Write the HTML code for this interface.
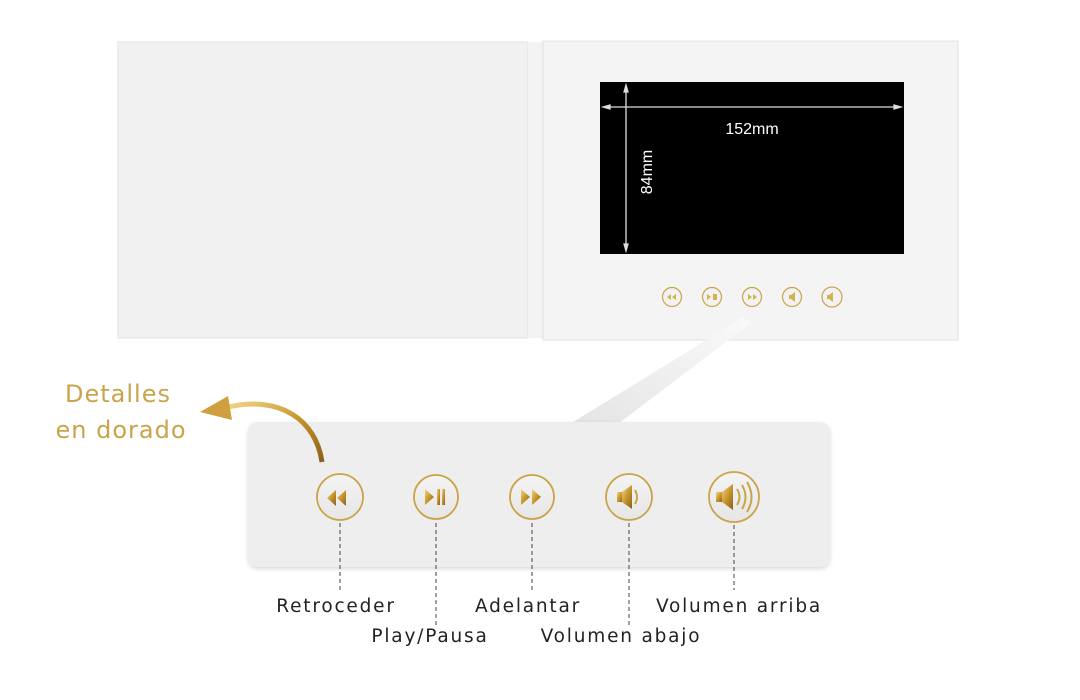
<!DOCTYPE html>
<html><head><style>
body{margin:0;width:1080px;height:700px;background:#fff;position:relative;overflow:hidden;font-family:"DejaVu Sans","Liberation Sans",sans-serif}
.t{position:absolute;font-size:18.5px;color:#222;white-space:nowrap;transform:translateX(-50%);letter-spacing:1.8px}
.g{position:absolute;font-size:24px;color:#c9a44a;white-space:nowrap;transform:translateX(-50%);letter-spacing:1px}
</style></head><body>
<svg width="1080" height="700" style="position:absolute;left:0;top:0">
<defs>
<linearGradient id="gold" x1="0" y1="0" x2="1" y2="1"><stop offset="0" stop-color="#f0d58a"/><stop offset="0.5" stop-color="#c8962c"/><stop offset="1" stop-color="#8a6018"/></linearGradient>
<linearGradient id="beam" x1="1" y1="0" x2="0" y2="1"><stop offset="0" stop-color="#fafafa"/><stop offset="1" stop-color="#e4e4e4"/></linearGradient>
<linearGradient id="btn" x1="0" y1="0" x2="0" y2="1"><stop offset="0" stop-color="#f4f4f4"/><stop offset="1" stop-color="#e6e6e6"/></linearGradient>
</defs>
<rect x="118" y="42" width="410" height="296" fill="#f1f1f1" stroke="#e2e2e2"/>
<rect x="528" y="42" width="16" height="296" fill="#f3f3f3"/>
<rect x="543" y="41" width="415" height="299" fill="#f4f4f4" stroke="#e0e0e0"/>
<rect x="600" y="82" width="304" height="172" fill="#000"/>
<g stroke="#ddd" stroke-width="1.3" fill="#ddd">
<line x1="604" y1="107" x2="900" y2="107"/><polygon points="603,107 610,105 610,109"/><polygon points="901,107 894,105 894,109"/>
<line x1="626" y1="86" x2="626" y2="250"/><polygon points="626,85 624,92 628,92"/><polygon points="626,251 624,244 628,244"/>
</g>
<text x="752" y="134" fill="#fff" font-size="16" text-anchor="middle" font-family="Liberation Sans">152mm</text>
<text transform="translate(652,172) rotate(-90)" fill="#fff" font-size="16" text-anchor="middle" font-family="Liberation Sans">84mm</text>
<g stroke="#c9a44a" stroke-width="1.2" fill="#f2f2f2">
<circle cx="672" cy="297" r="9.5"/><circle cx="712" cy="297" r="9.5"/><circle cx="752" cy="297" r="9.5"/><circle cx="792" cy="297" r="9.5"/><circle cx="832" cy="297" r="10"/>
</g>
<g fill="#d4b24c">
<polygon points="667,297 671,294 671,300"/><polygon points="672,297 676,294 676,300"/>
<polygon points="707,294 711,297 707,300"/><rect x="713" y="294" width="4" height="6"/>
<polygon points="748,294 752,297 748,300"/><polygon points="753,294 757,297 753,300"/>
<rect x="789" y="295" width="3" height="4"/><polygon points="791,295 795,292 795,302 791,299"/>
<rect x="827" y="295" width="3" height="4"/><polygon points="829,295 833,292 833,302 829,299"/>
</g>
<polygon points="742,318 752,322 618,424 570,424" fill="url(#beam)"/>
<rect x="248" y="422" width="582" height="145" rx="10" fill="#eeeeee" filter="drop-shadow(0 2px 2px rgba(0,0,0,0.15))"/>
<g stroke-dasharray="4,3" stroke="#444" stroke-width="1">
<line x1="340" y1="523" x2="340" y2="590"/><line x1="436" y1="523" x2="436" y2="625"/><line x1="532" y1="523" x2="532" y2="590"/><line x1="629" y1="523" x2="629" y2="625"/><line x1="734" y1="525" x2="734" y2="590"/>
</g>
<g stroke="#c9a44a" stroke-width="1.8" fill="url(#btn)">
<circle cx="340" cy="497" r="23"/><circle cx="436" cy="497" r="22"/><circle cx="532" cy="497" r="22"/><circle cx="629" cy="497" r="23"/><circle cx="734" cy="497" r="25"/>
</g>
<g fill="url(#gold)">
<polygon points="327,498 336,490 336,506"/><polygon points="337,498 346,490 346,506"/>
<polygon points="425,489 434,497 425,505"/><rect x="437" y="489" width="3" height="16"/><rect x="442" y="489" width="3" height="16"/>
<polygon points="521,489 530,497 521,505"/><polygon points="532,489 541,497 532,505"/>
<rect x="617" y="492" width="6" height="10"/><polygon points="622,492 632,485 632,509 622,502"/>
<rect x="716" y="492" width="7" height="10"/><polygon points="722,492 733,484 733,510 722,502"/>
</g>
<g fill="none" stroke="#c9a44a" stroke-width="2">
<path d="M635,490 q4,7 0,14"/><path d="M737,489 q5,8 0,16"/><path d="M742,485 q7,12 0,24"/><path d="M747,482 q9,15 0,30"/>
</g>
<path d="M322,462 C316,420 280,395 228,407" fill="none" stroke="url(#gold)" stroke-width="5"/>
<polygon points="200,412 228,396 232,420" fill="#d0a040"/>
</svg>
<div class="g" style="left:118px;top:380px">Detalles</div>
<div class="g" style="left:121px;top:416px">en dorado</div>
<div class="t" style="left:336px;top:596px">Retroceder</div>
<div class="t" style="left:430px;top:626px">Play/Pausa</div>
<div class="t" style="left:528px;top:596px">Adelantar</div>
<div class="t" style="left:621px;top:626px">Volumen abajo</div>
<div class="t" style="left:739px;top:596px">Volumen arriba</div>
</body></html>
